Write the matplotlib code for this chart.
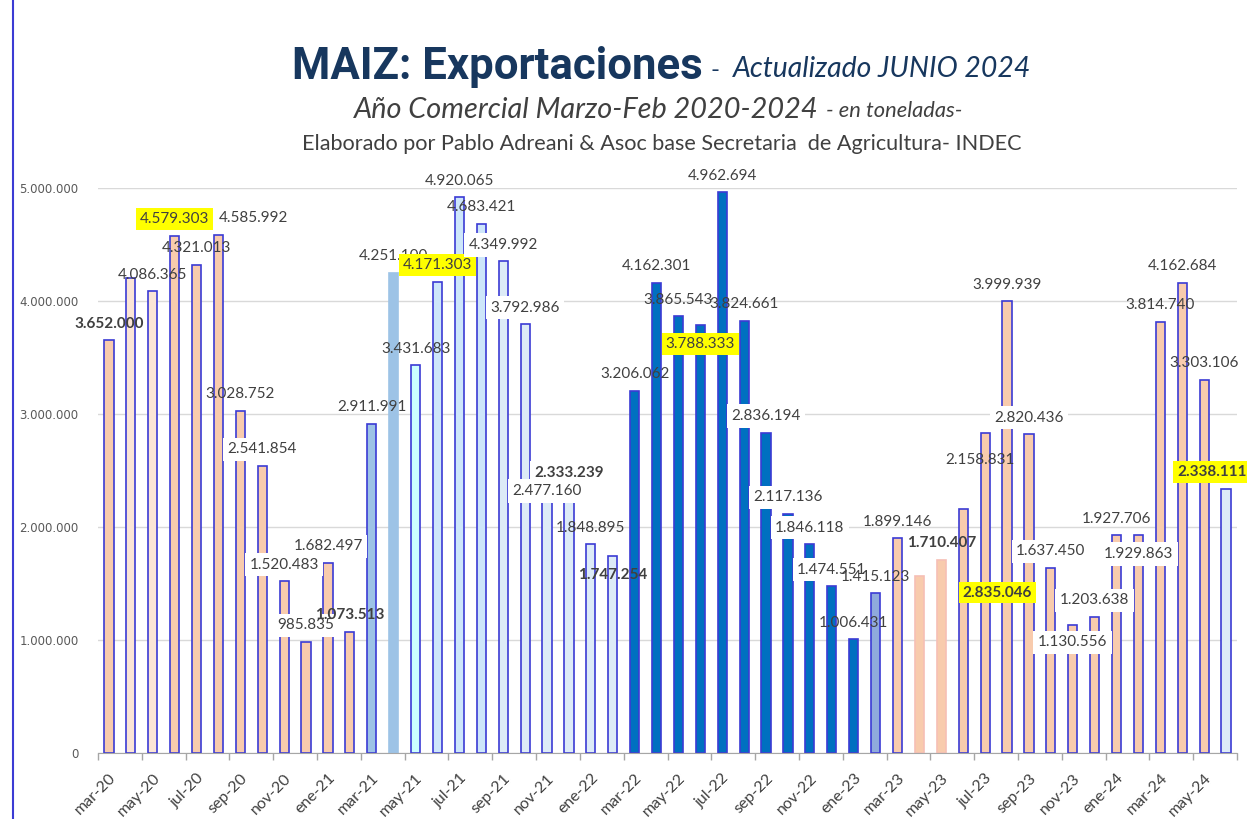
import numpy as np
import matplotlib.pyplot as plt
from matplotlib import font_manager
from matplotlib.lines import Line2D
from matplotlib.ticker import FuncFormatter

# datos: exportaciones mensuales de maiz (toneladas)
meses = ["mar-20", "abr-20", "may-20", "jun-20", "jul-20", "ago-20", "sep-20", "oct-20", "nov-20", "dic-20",
         "ene-21", "feb-21", "mar-21", "abr-21", "may-21", "jun-21", "jul-21", "ago-21", "sep-21", "oct-21",
         "nov-21", "dic-21", "ene-22", "feb-22", "mar-22", "abr-22", "may-22", "jun-22", "jul-22", "ago-22",
         "sep-22", "oct-22", "nov-22", "dic-22", "ene-23", "feb-23", "mar-23", "abr-23", "may-23", "jun-23",
         "jul-23", "ago-23", "sep-23", "oct-23", "nov-23", "dic-23", "ene-24", "feb-24", "mar-24", "abr-24",
         "may-24", "jun-24"]

toneladas = [3652000, 4205000, 4086365, 4579303, 4321013, 4585992, 3028752, 2541854, 1520483, 985835,
             1682497, 1073513, 2911991, 4251100, 3431683, 4171303, 4920065, 4683421, 4349992, 3792986,
             2477160, 2333239, 1848895, 1747254, 3206062, 4162301, 3865543, 3788333, 4962694, 3824661,
             2836194, 2117136, 1846118, 1474551, 1006431, 1415123, 1899146, 1566000, 1710407, 2158831,
             2835046, 3999939, 2820436, 1637450, 1130556, 1203638, 1927706, 1929863, 3814740, 4162684,
             3303106, 2338111]

yticks = [0, 1000000, 2000000, 3000000, 4000000, 5000000]

# estilos
peach = "#F8CBAD"
light_peach = "#FBE5D6"
mid_blue = "#9DC3E6"
cyan = "#CCFFFF"
sky = "#CDE6FA"
pale = "#DDEBF7"
dark = "#0070C0"
peri = "#8FAADC"
edge = "#3B3BD4"

colores = ([peach] + [light_peach] * 2 + [peach] * 9 + [mid_blue] * 2 + [cyan] + [sky] * 3 + [pale] * 6
           + [dark] * 11 + [peri] + [peach] * 15 + [pale] * 3 + [peach])
bordes = [edge] * len(toneladas)
bordes[13] = mid_blue
bordes[37] = "#F6BFB5"
bordes[38] = "#F6BFB5"

sin_etiqueta = {1, 37}
negrita = {0, 11, 21, 23, 38, 40, 51}
amarillo = {3, 15, 27, 40, 51}
blanco = {7, 8, 9, 10, 18, 19, 20, 21, 30, 31, 32, 33, 42, 43, 44, 45, 47}
# desplazamiento de etiquetas (pixeles) respecto a la punta de la barra
desp = {5: (35, 17), 20: (0, -18), 23: (0, -19), 27: (0, -19), 39: (17, 49),
        40: (12, -160), 44: (0, -17), 47: (0, -19), 51: (-14, 17)}

names = {f.name for f in font_manager.fontManager.ttflist}
titulo_font = "Liberation Sans Narrow" if "Liberation Sans Narrow" in names else "Roboto"
label_font = "Lato"


def puntos(v):
    return "{:,}".format(int(v)).replace(",", ".")


W, H = 1247, 819
fig = plt.figure(figsize=(W / 100, H / 100), dpi=100)
ax = fig.add_axes([98 / W, 1 - 753 / H, (1237 - 98) / W, (753 - 188) / H])

x = np.arange(len(toneladas))
ax.bar(x, toneladas, width=0.42, color=colores, edgecolor=bordes, linewidth=1.2, zorder=2)

ax.set_xlim(-0.5, len(toneladas) - 0.5)
ax.set_ylim(0, 5000000)
ax.set_yticks(yticks)
ax.yaxis.set_major_formatter(FuncFormatter(lambda v, p: puntos(v)))
ax.tick_params(axis="y", length=0, labelsize=8.5, labelcolor="#595959", pad=14)
for t in ax.get_yticklabels():
    t.set_fontfamily("DejaVu Sans")
ax.yaxis.grid(True, color="#D9D9D9", linewidth=1)
ax.set_axisbelow(True)

ax.set_xticks(x[::2])
ax.set_xticklabels(meses[::2], rotation=45, ha="right", rotation_mode="anchor",
                   fontfamily=label_font, fontsize=11.5, color="#404040")
ax.set_xticks(np.arange(-0.5, len(toneladas), 2), minor=True)
ax.tick_params(axis="x", which="major", length=0, pad=13)
ax.tick_params(axis="x", which="minor", length=5, color="#A6A6A6", width=1)

for s in ["left", "right", "top"]:
    ax.spines[s].set_visible(False)
ax.spines["bottom"].set_color("#A6A6A6")

for i, v in enumerate(toneladas):
    if i in sin_etiqueta:
        continue
    bbox = None
    if i in amarillo:
        bbox = dict(boxstyle="square,pad=0.25", fc="#FFFF00", ec="none")
    elif i in blanco:
        bbox = dict(boxstyle="square,pad=0.3", fc="white", ec="none")
    ax.annotate(puntos(v), xy=(i, v), xytext=desp.get(i, (0, 16.5)), textcoords="offset pixels",
                ha="center", va="center", fontsize=11, fontfamily=label_font, color="#404040",
                fontweight="bold" if i in negrita else "normal", bbox=bbox, zorder=4,
                annotation_clip=False)

# titulos
renderer = fig.canvas.get_renderer()


def pieza(px, py, texto, ancho, **kw):
    t = fig.text(px / W, 1 - py / H, texto, ha="left", va="baseline", fontsize=20, **kw)
    bb = t.get_window_extent(renderer)
    t.set_fontsize(20 * ancho / bb.width)
    return t


navy = "#17375E"
pieza(292, 79, "MAIZ: Exportaciones", 410, fontfamily=titulo_font, fontweight="bold", color=navy)
pieza(711, 77, "-", 9, fontfamily=label_font, color=navy)
pieza(733, 77, "Actualizado JUNIO 2024", 298, fontfamily=label_font, style="italic", color=navy)
pieza(354, 118, "Año Comercial Marzo-Feb 2020-2024", 465, fontfamily=label_font, style="italic", color="#404040")
pieza(826, 117, "- en toneladas-", 136, fontfamily=label_font, style="italic", color="#404040")
pieza(302, 150, "Elaborado por Pablo Adreani & Asoc base Secretaria  de Agricultura- INDEC", 720,
      fontfamily=label_font, color="#404040")

fig.add_artist(Line2D([13 / W, 13 / W], [0, 1], color="#3B3BD4", linewidth=1.5))

fig.savefig("out.png", dpi=100)
